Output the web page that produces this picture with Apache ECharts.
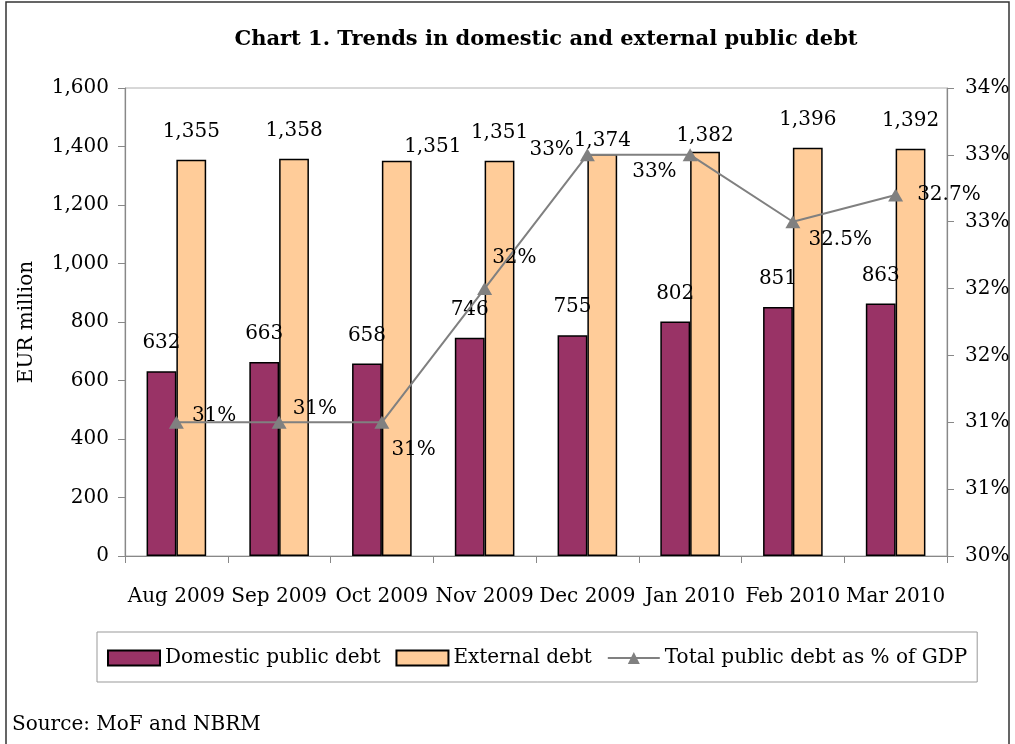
<!DOCTYPE html>
<html>
<head>
<meta charset="utf-8">
<script src="https://cdn.jsdelivr.net/npm/echarts@6/dist/echarts.min.js"></script>
<style>
html,body{margin:0;padding:0;background:#fff;}
#chart{width:1015px;height:744px;}
</style>
</head>
<body>
<div id="chart"></div>
<script>
const categories = ['Aug 2009','Sep 2009','Oct 2009','Nov 2009','Dec 2009','Jan 2010','Feb 2010','Mar 2010'];
const domesticDebt = [632, 663, 658, 746, 755, 802, 851, 863];
const externalDebt = [1355, 1358, 1351, 1351, 1374, 1382, 1396, 1392];
const debtToGdp = [31, 31, 31, 32, 33, 33, 32.5, 32.7];
const leftTicks = {min: 0, max: 1600, interval: 200};
const rightTicks = {min: 30, max: 33.5, interval: 0.5};

const FONT = '"DejaVu Serif", "Liberation Serif", serif';
const FS = 20;

function buildOption() {
  // label placement tweaks (styling, not data)
  const extLabelOffset = [[0,0],[0,0],[36,14],[0,0],[0,15],[0,12],[0,0],[0,0]];
  const lineLabelStyle = [
    {position:'right', distance:8, offset:[0,-6]},
    {position:'right', distance:6, offset:[0,-13]},
    {position:'right', distance:2, offset:[0,28]},
    {position:'right', distance:0, offset:[0,-31]},
    {position:'left', distance:6, offset:[0,-5]},
    {position:'left', distance:6, offset:[0,17]},
    {position:'right', distance:8, offset:[0,18]},
    {position:'right', distance:14, offset:[0,0]}
  ];
  const fmtNum = v => String(v).replace(/\B(?=(\d{3})+(?!\d))/g, ',');
  const fmtPct = v => (Number.isInteger(v) ? v : v.toFixed(1)) + '%';

  return {
    animation: false,
    backgroundColor: '#fff',
    textStyle: {fontFamily: FONT, color: '#000'},
    title: {
      text: 'Chart 1. Trends in domestic and external public debt',
      left: 541, top: 24, textAlign: 'center',
      textStyle: {fontFamily: FONT, fontWeight: 'bold', fontSize: 21, color: '#000'}
    },
    graphic: [
      {type:'rect', shape:{x:6, y:2, width:1003, height:800}, style:{fill:'none', stroke:'#333', lineWidth:1.5}, silent:true},
      {type:'text', left: 12, top: 715, style:{text:'Source: MoF and NBRM', fontFamily: FONT, fontSize: FS, fill:'#000'}}
    ],
    legend: {
      left: 97, top: 632, height: 51,
      padding: [16, 10, 14, 10],
      itemGap: 15,
      itemWidth: 52, itemHeight: 15,
      borderColor: '#999', borderWidth: 1,
      textStyle: {fontFamily: FONT, fontSize: FS, color: '#000'},
      data: [
        {name:'Domestic public debt', icon:'rect'},
        {name:'External debt', icon:'rect'},
        {name:'Total public debt as % of GDP'}
      ]
    },
    grid: {left: 125, right: 68, top: 88, bottom: 188, show: true, borderColor: '#b0b0b0', borderWidth: 1},
    xAxis: {
      type: 'category', data: categories,
      axisLine: {lineStyle: {color: '#888', width: 1.2}},
      axisTick: {show: true, length: 7, lineStyle: {color: '#888'}},
      axisLabel: {fontFamily: FONT, fontSize: FS, color: '#000', margin: 31, interval: 0}
    },
    yAxis: [
      {
        type: 'value', min: leftTicks.min, max: leftTicks.max, interval: leftTicks.interval,
        name: 'EUR million', nameLocation: 'middle', nameGap: 88,
        nameTextStyle: {fontFamily: FONT, fontSize: FS, color: '#000'},
        axisLine: {show: true, lineStyle: {color: '#888', width: 1.2}},
        axisTick: {show: true, length: 7, lineStyle: {color: '#888'}},
        axisLabel: {fontFamily: FONT, fontSize: FS, color: '#000', margin: 16, formatter: fmtNum},
        splitLine: {show: false}
      },
      {
        type: 'value', min: rightTicks.min, max: rightTicks.max, interval: rightTicks.interval,
        position: 'right',
        axisLine: {show: true, lineStyle: {color: '#888', width: 1.2}},
        axisTick: {show: true, length: 7, lineStyle: {color: '#888'}},
        axisLabel: {fontFamily: FONT, fontSize: FS, color: '#000', margin: 18, formatter: v => Math.round(v) + '%'},
        splitLine: {show: false}
      }
    ],
    series: [
      {
        name: 'Domestic public debt', type: 'bar', yAxisIndex: 0,
        barGap: '0%', barCategoryGap: '42%',
        itemStyle: {color: '#993366', borderColor: '#000', borderWidth: 1.5},
        label: {show: true, position: 'top', distance: 18, fontFamily: FONT, fontSize: FS, color: '#000', formatter: p => fmtNum(p.value)},
        data: domesticDebt
      },
      {
        name: 'External debt', type: 'bar', yAxisIndex: 0,
        barGap: '0%', barCategoryGap: '42%',
        itemStyle: {color: '#FFCC99', borderColor: '#000', borderWidth: 1.5},
        label: {show: true, position: 'top', distance: 18, fontFamily: FONT, fontSize: FS, color: '#000', formatter: p => fmtNum(p.value)},
        data: externalDebt.map((v, i) => ({value: v, label: {offset: extLabelOffset[i]}}))
      },
      {
        name: 'Total public debt as % of GDP', type: 'line', yAxisIndex: 1,
        symbol: 'triangle', symbolSize: [15, 13],
        lineStyle: {color: '#808080', width: 2},
        itemStyle: {color: '#808080'},
        label: {show: true, fontFamily: FONT, fontSize: FS, color: '#000', formatter: p => fmtPct(p.value)},
        data: debtToGdp.map((v, i) => ({value: v, label: lineLabelStyle[i]})),
        z: 5
      }
    ]
  };
}

const chart = echarts.init(document.getElementById('chart'), null, {renderer: 'canvas'});
chart.setOption(buildOption());
</script>
</body>
</html>
